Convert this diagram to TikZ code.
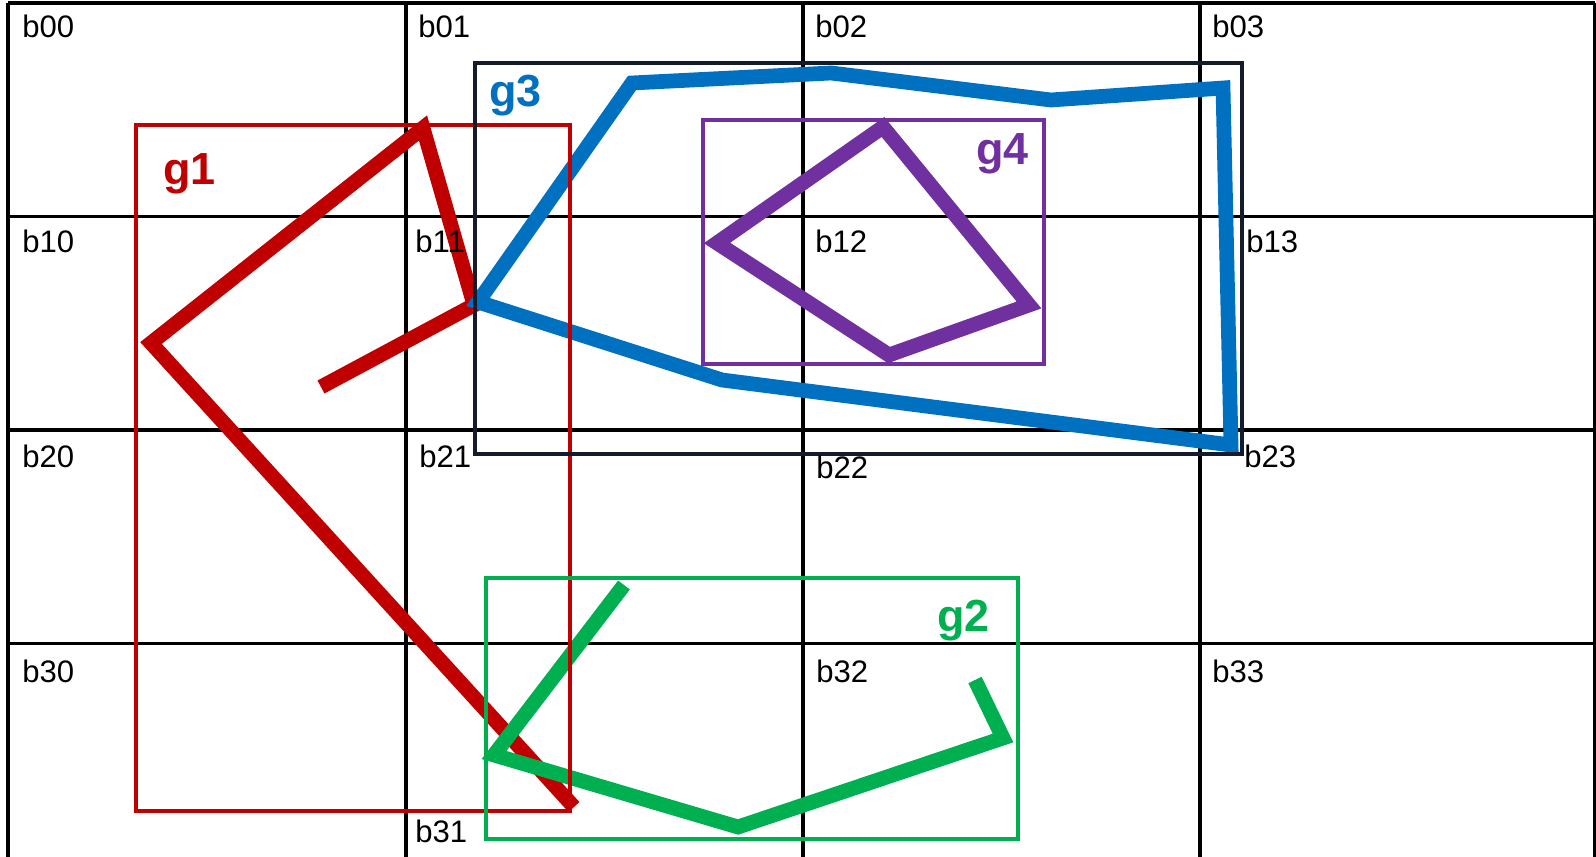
\documentclass[tikz,border=0pt]{standalone}
\usepackage{fontspec}
\setmainfont{Liberation Sans}
\usetikzlibrary{positioning}
\definecolor{gonered}{HTML}{C00000}
\definecolor{gtwogreen}{HTML}{00B050}
\definecolor{gthreeblue}{HTML}{0070C0}
\definecolor{gthreebox}{HTML}{141C2B}
\definecolor{gfourpurple}{HTML}{7030A0}

\begin{document}
\begin{tikzpicture}
    [x=0.02cm,y=-0.02cm,
gridline/.style={draw=black, line width=2pt},
cellname/.style={anchor=base west, inner sep=0pt, font=\fontsize{17.7}{20}\selectfont},
groupbox/.style={line width=1.9pt},
groupline/.style={line width=8.4pt, line join=miter},
groupname/.style={anchor=base west, inner sep=0pt, font=\fontsize{25.6}{28}\selectfont\bfseries}
]
\useasboundingbox (0,0) rectangle (1596,857);

\foreach \gx in {8,406,803,1200,1595} \draw[gridline] (\gx,3) -- (\gx,857);
\foreach \gy in {3,216.5,430,643.5} \draw[gridline] (8,\gy) -- (1595,\gy);

\draw[groupline, draw=gonered] (321,387) -- (474,305) -- (423,128) -- (151,343) -- (574,807);
\draw[groupline, draw=gthreeblue] (478,302) -- (632,83) -- (831,73) -- (1051,100) -- (1223,88) -- (1231,445) -- (722,380) -- cycle;
\draw[groupline, draw=gfourpurple] (883,127) -- (1029,305) -- (889,355) -- (717,243) -- cycle;
\draw[groupline, draw=gtwogreen] (624,585) -- (494,755) -- (738,827) -- (1003,738) -- (975,680);

\draw[groupbox, draw=gonered] (136,125) rectangle (570,811);
\draw[groupbox, draw=gthreebox, line width=2.3pt] (475,63) rectangle (1242,454);
\draw[groupbox, draw=gfourpurple] (703,120) rectangle (1044,364);
\draw[groupbox, draw=gtwogreen] (486,578) rectangle (1018,839);

\node[cellname](b00) at (22,38){b00};
\node[cellname](b01) at (418,38){b01};
\node[cellname](b02) at (815,38){b02};
\node[cellname](b03) at (1212,38){b03};
\node[cellname](b10) at (22,253){b10};
\node[cellname](b11) at (415,253){b11};
\node[cellname](b12) at (815,253){b12};
\node[cellname](b13) at (1246,253){b13};
\node[cellname](b20) at (22,468){b20};
\node[cellname](b21) at (419,468){b21};
\node[cellname](b22) at (816,479){b22};
\node[cellname](b23) at (1244,468){b23};
\node[cellname](b30) at (22,683){b30};
\node[cellname](b31) at (415,842){b31};
\node[cellname](b32) at (816,683){b32};
\node[cellname](b33) at (1212,683){b33};

\node[groupname, text=gonered](g1) at (163,185){g1};
\node[groupname, text=gthreeblue](g3) at (489,107){g3};
\node[groupname, text=gfourpurple](g4) at (976,165){g4};
\node[groupname, text=gtwogreen](g2) at (937,632){g2};
\end{tikzpicture}
\end{document}
